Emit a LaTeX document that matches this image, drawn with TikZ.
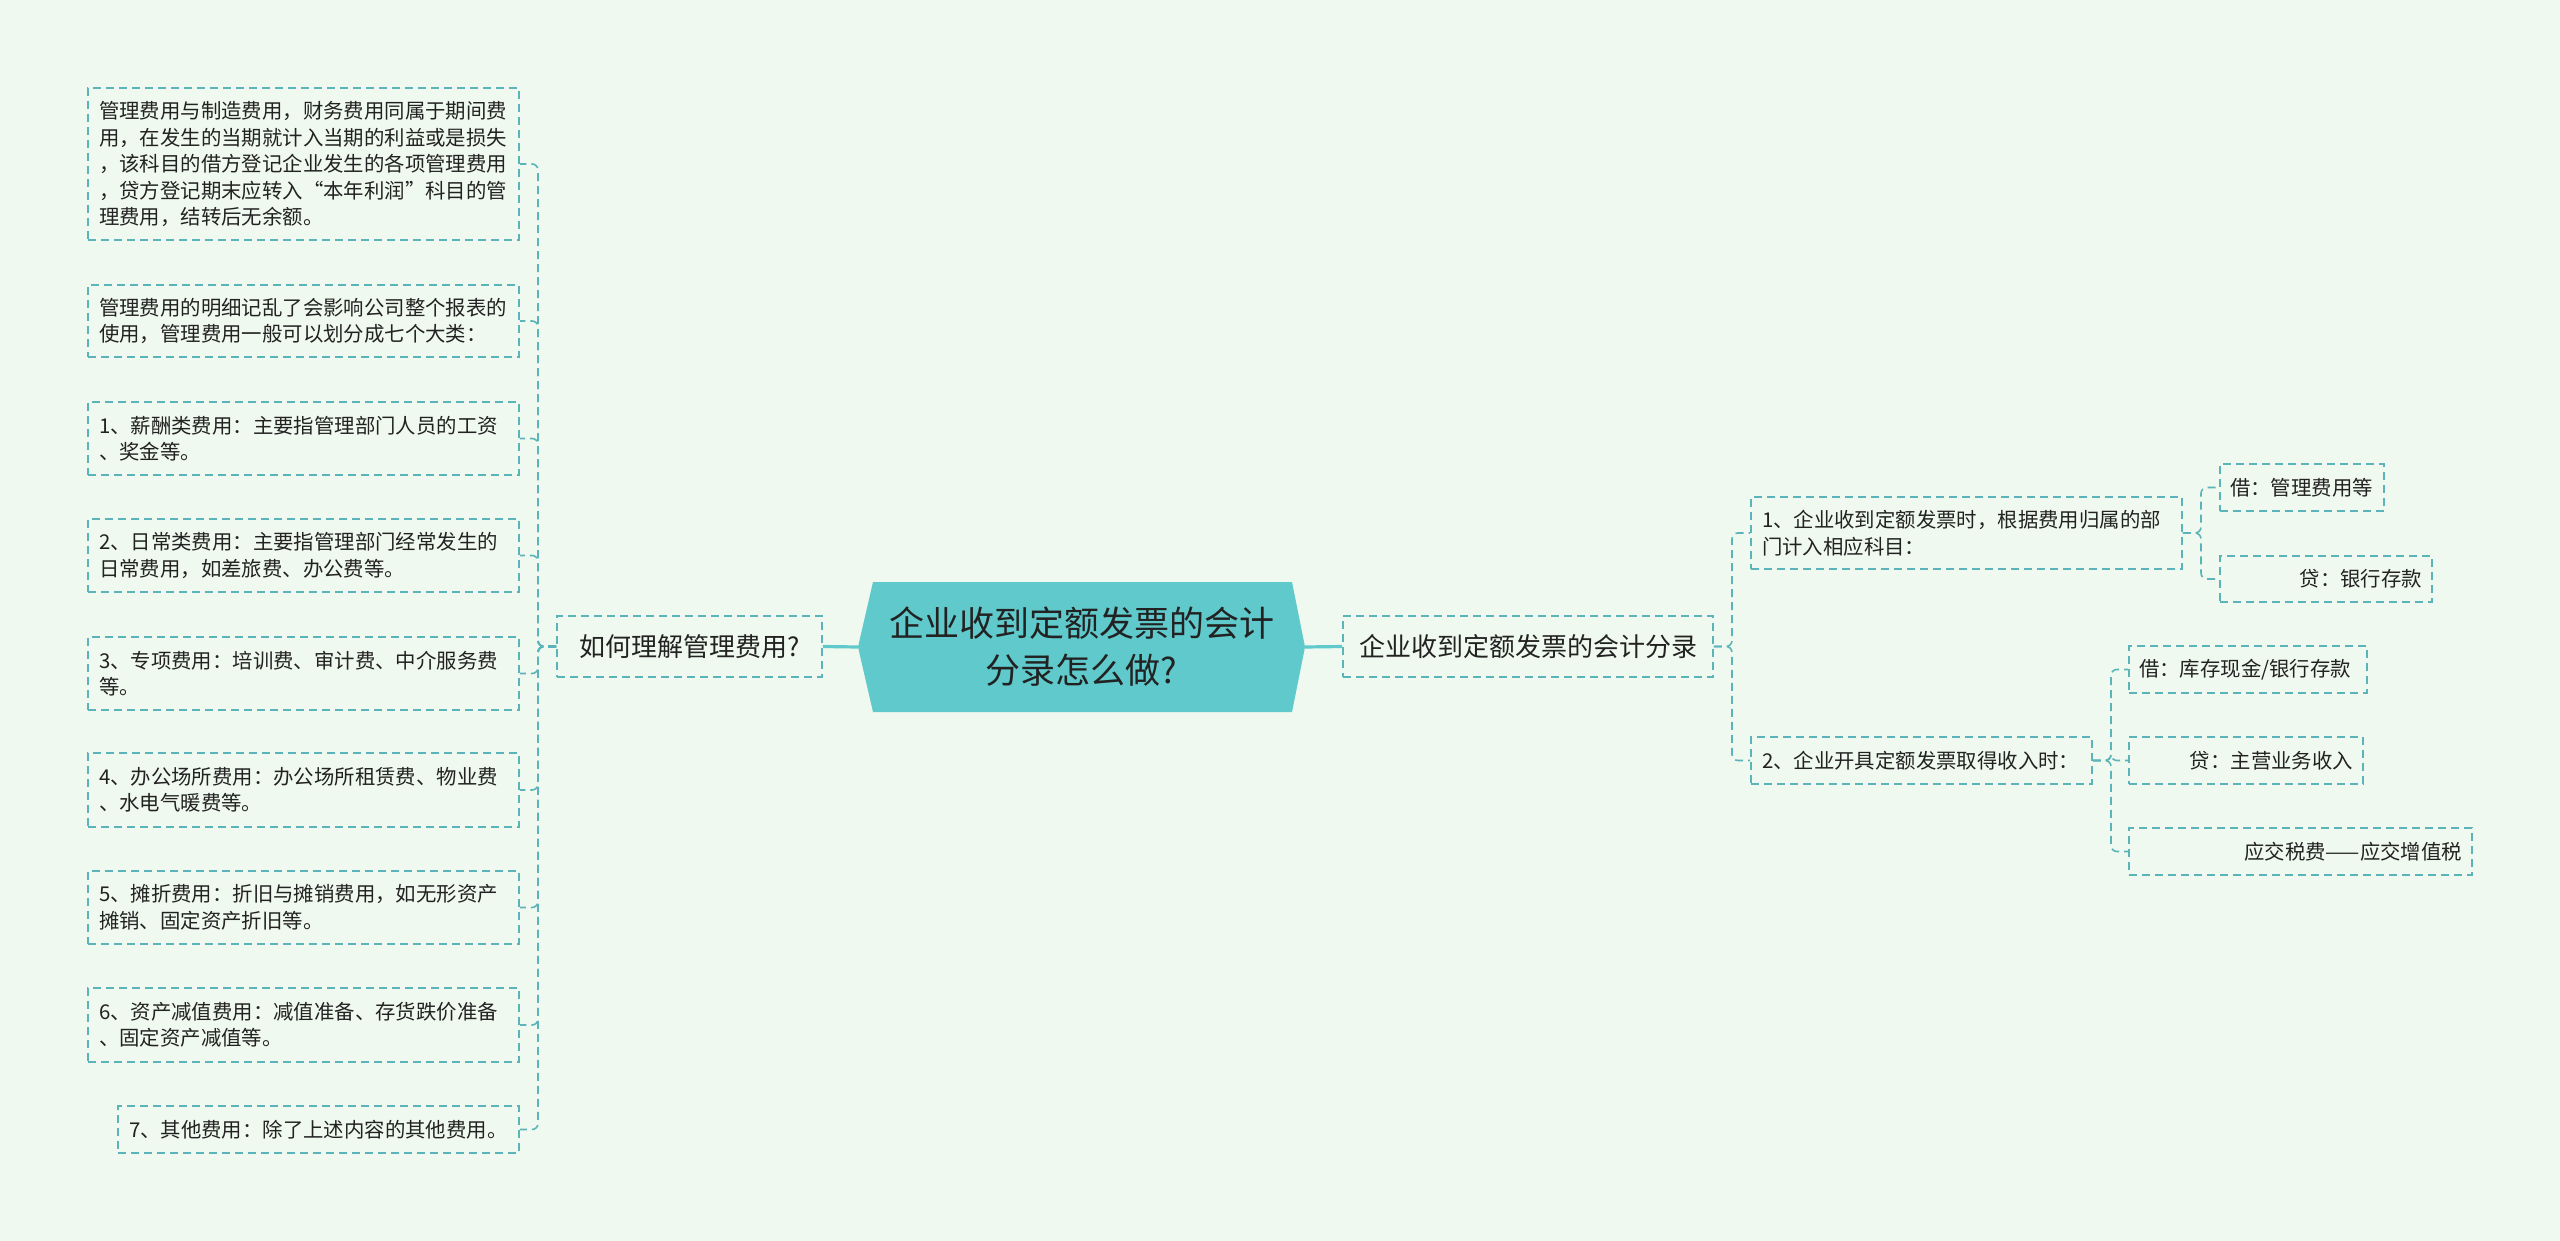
\documentclass[tikz,border=0pt]{standalone}
\usepackage{fontspec}
\setmainfont{Noto Sans CJK SC}
\definecolor{bg}{HTML}{F0F9EF}
\definecolor{lineC}{HTML}{5AB4B9}
\definecolor{rootC}{HTML}{5FC9CB}
\definecolor{txt}{HTML}{222222}
\begin{document}
\begin{tikzpicture}[x=1pt,y=-1pt,
  conn/.style={draw=lineC, line width=1.6pt, dash pattern=on 8pt off 5pt, rounded corners=6pt},
  solidconn/.style={draw=rootC, line width=3.2pt},
  boxbase/.style={draw=lineC, line width=1.6pt, dash pattern=on 8pt off 5pt, text=txt, inner xsep=11pt, inner ysep=0pt},
  lbox/.style={boxbase, font=\fontsize{20.4}{26.5}\selectfont, text width=409pt, align=left},
  sbox/.style={boxbase, inner xsep=10pt, font=\fontsize{20.4}{26.5}\selectfont},
  mbox/.style={boxbase, inner xsep=14pt, font=\fontsize{26}{32}\selectfont, align=center}
]
\fill[bg] (0,0) rectangle (2560,1241);
\useasboundingbox (0,0) rectangle (2560,1241);

% root
\fill[rootC] (858,647) -- (873,582) -- (1292,582) -- (1305,647) -- (1292,712) -- (873,712) -- cycle;
\node[font=\fontsize{35}{47}\selectfont, align=center, text=txt] (root) at (1081.5,647) {企业收到定额发票的会计\\分录怎么做?};
\coordinate (rootW) at (858,647);
\coordinate (rootE) at (1305,647);

% main branches
\node[mbox, text width=237pt, minimum height=61pt] (q) at (689.5,646.5) {如何理解管理费用?};
\node[mbox, text width=342pt, minimum height=61pt] (r) at (1528,646.5) {企业收到定额发票的会计分录};

% left leaves
\node[lbox, minimum height=152pt] (a1) at (303.5,164) {管理费用与制造费用，财务费用同属于期间费\\用，在发生的当期就计入当期的利益或是损失\\，该科目的借方登记企业发生的各项管理费用\\，贷方登记期末应转入“本年利润”科目的管\\理费用，结转后无余额。};
\node[lbox, minimum height=72pt] (a2) at (303.5,321) {管理费用的明细记乱了会影响公司整个报表的\\使用，管理费用一般可以划分成七个大类：};
\node[lbox, minimum height=73pt] (a3) at (303.5,438.5) {1、薪酬类费用：主要指管理部门人员的工资\\、奖金等。};
\node[lbox, minimum height=73pt] (a4) at (303.5,555.5) {2、日常类费用：主要指管理部门经常发生的\\日常费用，如差旅费、办公费等。};
\node[lbox, minimum height=73pt] (a5) at (303.5,673.5) {3、专项费用：培训费、审计费、中介服务费\\等。};
\node[lbox, minimum height=74pt] (a6) at (303.5,790) {4、办公场所费用：办公场所租赁费、物业费\\、水电气暖费等。};
\node[lbox, minimum height=73pt] (a7) at (303.5,907.5) {5、摊折费用：折旧与摊销费用，如无形资产\\摊销、固定资产折旧等。};
\node[lbox, minimum height=74pt] (a8) at (303.5,1025) {6、资产减值费用：减值准备、存货跌价准备\\、固定资产减值等。};
\node[lbox, text width=379pt, minimum height=47pt] (a9) at (318.5,1129.5) {7、其他费用：除了上述内容的其他费用。};

% right level 2
\node[lbox, minimum height=72pt] (s1) at (1966.5,533) {1、企业收到定额发票时，根据费用归属的部\\门计入相应科目：};
\node[lbox, text width=319pt, minimum height=47pt] (s2) at (1921.5,760.5) {2、企业开具定额发票取得收入时：};

% right level 3
\node[sbox, text width=144pt, align=left, minimum height=47pt] (d1) at (2302,487.5) {借：管理费用等};
\node[sbox, text width=192pt, align=right, minimum height=46pt] (d2) at (2326,579) {贷：银行存款};
\node[sbox, text width=218pt, align=left, minimum height=47pt] (e1) at (2248,669.5) {借：库存现金/银行存款};
\node[sbox, text width=214pt, align=right, minimum height=47pt] (e2) at (2246,760.5) {贷：主营业务收入};
\node[sbox, text width=323pt, align=right, minimum height=47pt] (e3) at (2300.5,851.5) {应交税费——应交增值税};

% junctions
\coordinate (lj) at (538,646.5);
\coordinate (rj) at (1732,646.5);
\coordinate (s1j) at (2201,533);
\coordinate (s2j) at (2111,760.5);

% root connectors
\draw[solidconn] (rootW) -- (q.east);
\draw[solidconn] (rootE) -- (r.west);

% left tree
\foreach \n in {a1,a2,a3,a4,a5,a6,a7,a8,a9}
  \draw[conn] (q.west) -- (lj) |- (\n.east);

% right tree
\foreach \n in {s1,s2}
  \draw[conn] (r.east) -- (rj) |- (\n.west);
\foreach \n in {d1,d2}
  \draw[conn] (s1.east) -- (s1j) |- (\n.west);
\foreach \n in {e1,e2,e3}
  \draw[conn] (s2.east) -- (s2j) |- (\n.west);
\end{tikzpicture}
\end{document}
